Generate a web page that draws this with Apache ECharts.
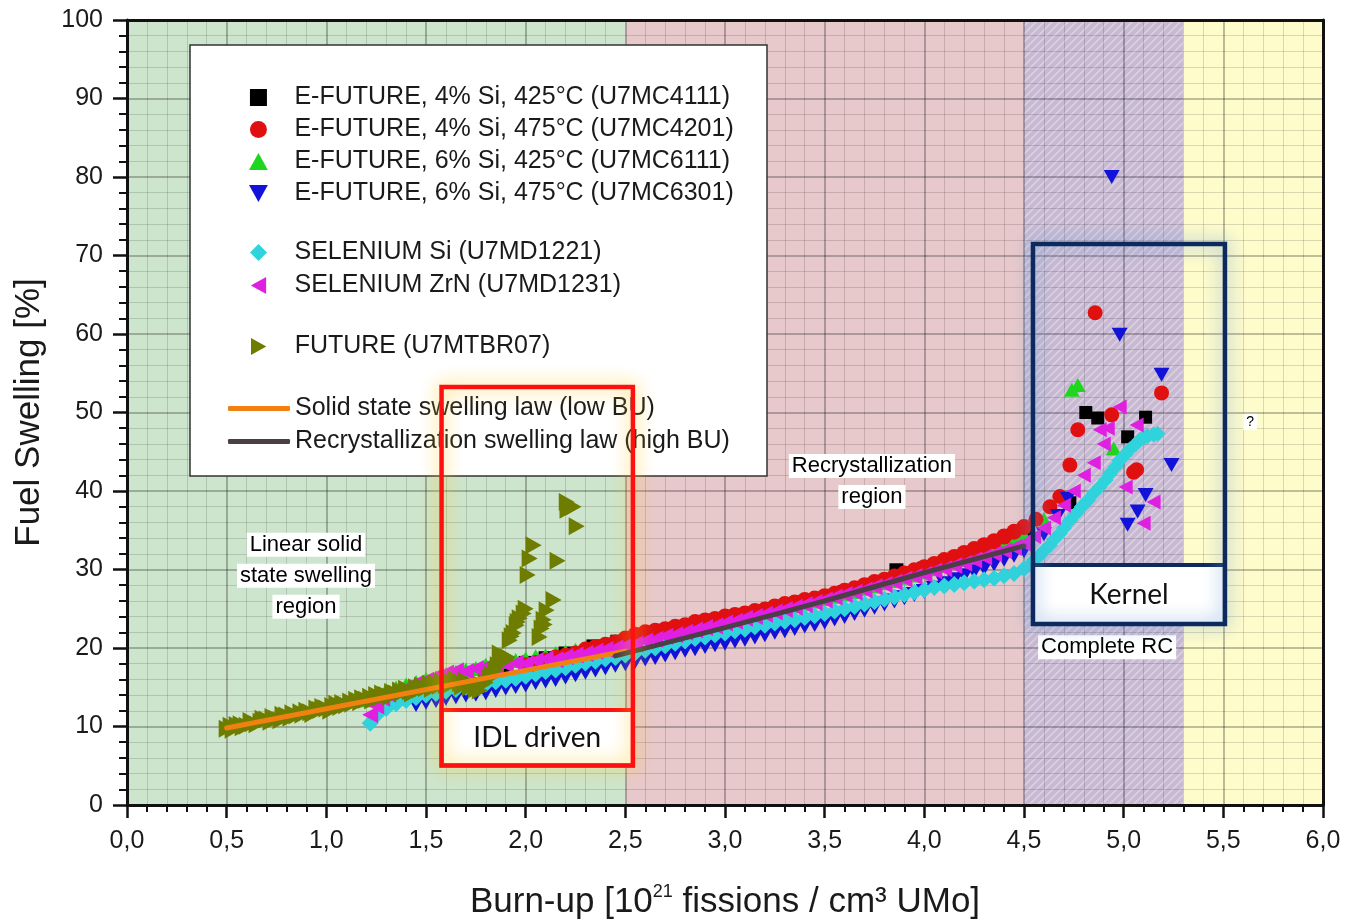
<!DOCTYPE html>
<html><head><meta charset="utf-8">
<script src="https://cdn.jsdelivr.net/npm/echarts@6/dist/echarts.min.js"></script>
<style>html,body{margin:0;padding:0;background:#fff}#c{width:1346px;height:919px}</style>
</head><body><div id="c"></div>
<script>
// ---------- data ----------
const X_MIN = 0, X_MAX = 6, X_STEP = 0.5;
const Y_MIN = 0, Y_MAX = 100, Y_STEP = 10;
const seriesNames = [
  'E-FUTURE, 4% Si, 425°C (U7MC4111)',
  'E-FUTURE, 4% Si, 475°C (U7MC4201)',
  'E-FUTURE, 6% Si, 425°C (U7MC6111)',
  'E-FUTURE, 6% Si, 475°C (U7MC6301)',
  'SELENIUM Si (U7MD1221)',
  'SELENIUM ZrN (U7MD1231)',
  'FUTURE (U7MTBR07)'
];
const lawNames = ['Solid state swelling law (low BU)', 'Recrystallization swelling law (high BU)'];
const regionBands = [[0, 2.5], [2.5, 4.5], [4.5, 5.3], [5.3, 6]];

const efuture4_425 = [[1.90,17.6],[2.00,18.1],[2.10,18.7],[2.20,19.3],[2.34,20.2],[2.46,20.8],[2.60,21.5],[2.80,22.6],[3.00,23.6],[3.20,24.6],[3.40,25.8],[3.60,27.1],[3.86,29.9],[4.00,30.1],[4.20,31.6],[4.40,33.6],[4.52,35.0],[4.73,38.5],[4.81,50.0],[4.87,49.3],[5.02,46.9],[5.11,49.4]];
const efuture4_475 = [[2.00,17.8],[2.05,18.1],[2.10,18.4],[2.15,18.8],[2.20,19.0],[2.25,19.3],[2.30,19.8],[2.35,20.1],[2.40,20.4],[2.45,20.7],[2.50,21.2],[2.55,21.7],[2.60,22.0],[2.65,22.2],[2.70,22.4],[2.75,22.7],[2.80,22.9],[2.85,23.3],[2.90,23.5],[2.95,23.7],[3.00,24.0],[3.05,24.2],[3.10,24.4],[3.15,24.7],[3.20,24.9],[3.25,25.3],[3.30,25.6],[3.35,25.8],[3.40,26.1],[3.45,26.3],[3.50,26.6],[3.55,26.9],[3.60,27.3],[3.65,27.6],[3.70,28.0],[3.75,28.4],[3.80,28.7],[3.85,29.1],[3.90,29.5],[3.95,29.9],[4.00,30.3],[4.05,30.7],[4.10,31.2],[4.15,31.6],[4.20,32.1],[4.25,32.6],[4.30,33.1],[4.35,33.6],[4.40,34.2],[4.45,34.8],[4.50,35.4],[4.56,36.4],[4.63,38.0],[4.68,39.3],[4.73,43.3],[4.77,47.8],[4.857,62.7],[4.94,49.7],[5.05,42.4],[5.065,42.7],[5.19,52.5]];
const efuture6_425 = [[1.20,13.4],[1.25,13.9],[1.30,14.6],[1.35,14.9],[1.40,15.3],[1.45,15.6],[1.50,16.0],[1.55,16.2],[1.60,16.6],[1.65,16.9],[1.70,17.2],[1.75,17.4],[1.80,17.8],[1.85,18.0],[1.90,18.3],[1.95,18.4],[2.00,18.6],[2.05,18.9],[2.10,19.0],[2.15,19.3],[2.20,19.5],[2.25,19.7],[2.30,20.0],[2.35,20.2],[2.40,20.4],[2.45,20.6],[2.50,20.9],[2.55,21.2],[2.60,21.4],[2.65,21.7],[2.70,21.9],[2.75,22.2],[2.80,22.4],[2.85,22.7],[2.90,23.0],[2.95,23.2],[3.00,23.5],[3.05,23.7],[3.10,24.0],[3.15,24.3],[3.20,24.5],[3.25,24.8],[3.30,25.1],[3.35,25.4],[3.40,25.7],[3.45,26.0],[3.50,26.3],[3.55,26.6],[3.60,26.9],[3.65,27.2],[3.70,27.6],[3.75,27.9],[3.80,28.3],[3.85,28.6],[3.90,29.0],[3.95,29.3],[4.00,29.7],[4.05,30.1],[4.10,30.5],[4.15,30.9],[4.20,31.3],[4.25,31.7],[4.30,32.2],[4.35,32.7],[4.40,33.2],[4.45,33.7],[4.50,34.3],[4.60,36.4],[4.74,52.9],[4.77,53.5],[4.95,45.4]];
const efuture6_475 = [[1.45,12.8],[1.50,13.1],[1.55,13.3],[1.60,13.6],[1.65,13.8],[1.70,14.0],[1.75,14.1],[1.80,14.3],[1.85,14.6],[1.90,14.9],[1.95,15.1],[2.00,15.3],[2.05,15.6],[2.10,15.8],[2.15,16.0],[2.20,16.3],[2.25,16.6],[2.30,16.9],[2.35,17.2],[2.40,17.5],[2.45,17.8],[2.50,18.0],[2.55,18.3],[2.60,18.6],[2.65,18.8],[2.70,19.1],[2.75,19.4],[2.80,19.7],[2.85,19.9],[2.90,20.2],[2.95,20.4],[3.00,20.6],[3.05,20.9],[3.10,21.1],[3.15,21.4],[3.20,21.7],[3.25,22.0],[3.30,22.2],[3.35,22.5],[3.40,22.8],[3.45,23.0],[3.50,23.3],[3.55,23.7],[3.60,24.0],[3.65,24.4],[3.70,24.8],[3.75,25.2],[3.80,25.6],[3.85,26.0],[3.90,26.4],[3.95,26.8],[4.00,27.2],[4.05,27.6],[4.10,28.2],[4.15,28.7],[4.20,29.2],[4.25,29.7],[4.30,30.2],[4.35,30.7],[4.40,31.3],[4.45,31.8],[4.50,32.4],[4.60,34.5],[4.67,36.8],[4.72,39.0],[4.94,80.0],[4.98,59.9],[5.19,54.8],[5.24,43.3],[5.11,39.5],[5.07,37.4],[5.02,35.7]];
const seleniumSi = [[1.22,10.4],[1.25,11.4],[1.30,12.3],[1.35,12.9],[1.40,13.3],[1.45,13.7],[1.50,14.0],[1.55,14.2],[1.60,14.5],[1.65,14.7],[1.70,15.0],[1.75,15.2],[1.80,15.4],[1.85,15.7],[1.90,15.9],[1.95,16.1],[2.00,16.4],[2.05,16.7],[2.10,17.0],[2.15,17.2],[2.20,17.5],[2.25,17.8],[2.30,18.1],[2.35,18.3],[2.40,18.6],[2.45,18.8],[2.50,19.1],[2.55,19.4],[2.60,19.7],[2.65,20.0],[2.70,20.3],[2.75,20.6],[2.80,20.9],[2.85,21.2],[2.90,21.4],[2.95,21.7],[3.00,21.9],[3.05,22.2],[3.10,22.4],[3.15,22.7],[3.20,22.9],[3.25,23.2],[3.30,23.4],[3.35,23.6],[3.40,23.9],[3.45,24.1],[3.50,24.4],[3.55,24.7],[3.60,25.0],[3.65,25.3],[3.70,25.6],[3.75,25.9],[3.80,26.2],[3.85,26.5],[3.90,26.8],[3.95,27.1],[4.00,27.4],[4.05,27.7],[4.10,27.9],[4.15,28.1],[4.20,28.3],[4.25,28.5],[4.30,28.7],[4.35,28.9],[4.40,29.2],[4.45,29.5],[4.50,30.1],[4.53,30.6],[4.55,31.2],[4.58,31.8],[4.60,32.4],[4.63,33.1],[4.65,33.8],[4.68,34.6],[4.70,35.3],[4.73,36.2],[4.76,37.1],[4.79,38.0],[4.82,38.8],[4.85,39.7],[4.88,40.5],[4.91,41.4],[4.93,42.2],[4.96,43.1],[4.98,43.9],[5.01,44.7],[5.03,45.3],[5.06,46.0],[5.08,46.5],[5.10,46.8],[5.12,47.0],[5.15,47.2],[5.17,47.3]];
const seleniumZrN = [[1.22,11.5],[1.25,12.6],[1.28,13.6],[1.31,14.1],[1.35,14.5],[1.40,14.9],[1.45,15.5],[1.50,15.9],[1.55,16.4],[1.60,16.8],[1.65,17.1],[1.70,17.0],[1.75,17.4],[1.80,17.6],[1.85,17.5],[1.90,17.9],[1.95,18.1],[2.00,18.0],[2.05,18.4],[2.10,18.6],[2.15,18.5],[2.20,18.9],[2.25,19.1],[2.30,19.3],[2.35,19.6],[2.40,19.8],[2.45,20.0],[2.50,20.3],[2.55,20.5],[2.60,20.9],[2.65,21.1],[2.70,21.5],[2.75,21.7],[2.80,22.0],[2.85,22.3],[2.90,22.6],[2.95,22.8],[3.00,23.2],[3.05,23.4],[3.10,23.8],[3.15,24.0],[3.20,24.3],[3.25,24.6],[3.30,24.9],[3.35,25.2],[3.40,25.5],[3.45,25.8],[3.50,26.1],[3.55,26.5],[3.60,26.8],[3.65,27.1],[3.70,27.4],[3.75,27.8],[3.80,28.1],[3.85,28.4],[3.90,28.8],[3.95,29.1],[4.00,29.4],[4.05,29.8],[4.10,30.1],[4.15,30.5],[4.20,30.8],[4.25,31.2],[4.30,31.6],[4.35,32.0],[4.40,32.4],[4.45,32.8],[4.50,33.3],[4.55,34.2],[4.60,35.3],[4.65,36.6],[4.70,38.2],[4.75,40.0],[4.80,42.0],[4.85,43.6],[4.90,46.0],[4.92,48.0],[4.88,47.8],[4.98,50.7],[5.065,48.4],[5.01,40.5],[5.15,38.6],[5.10,35.9]];
const futureTBR07 = [[0.50,9.7],[0.52,10.1],[0.53,9.6],[0.55,10.2],[0.57,10.3],[0.58,9.9],[0.60,10.1],[0.62,10.7],[0.63,10.4],[0.65,10.3],[0.67,10.6],[0.68,11.0],[0.70,10.9],[0.72,10.6],[0.73,11.2],[0.75,11.0],[0.77,10.8],[0.78,11.5],[0.80,11.4],[0.82,11.1],[0.83,11.7],[0.85,11.4],[0.87,11.8],[0.88,11.5],[0.90,12.0],[0.92,11.8],[0.93,11.6],[0.95,12.3],[0.97,12.1],[0.98,12.5],[1.00,12.3],[1.02,12.0],[1.03,12.6],[1.05,12.9],[1.07,12.5],[1.08,13.0],[1.10,12.7],[1.12,13.2],[1.13,12.9],[1.15,13.4],[1.17,13.1],[1.18,13.6],[1.20,13.4],[1.22,13.8],[1.23,13.3],[1.25,14.0],[1.27,13.7],[1.28,14.2],[1.30,14.0],[1.32,13.8],[1.33,14.4],[1.35,14.2],[1.37,14.6],[1.38,14.3],[1.40,14.8],[1.42,14.5],[1.43,14.2],[1.45,15.0],[1.47,14.7],[1.48,15.2],[1.50,14.9],[1.52,15.4],[1.53,14.8],[1.55,15.5],[1.57,15.2],[1.58,15.7],[1.60,15.3],[1.62,15.8],[1.63,15.4],[1.65,16.0],[1.67,15.5],[1.68,15.1],[1.70,15.8],[1.72,15.0],[1.73,15.4],[1.75,14.7],[1.77,14.6],[1.78,15.3],[1.80,15.6],[1.82,16.2],[1.83,16.6],[1.85,17.2],[1.86,17.8],[1.88,19.0],[1.90,18.4],[1.91,18.8],[1.87,19.3],[1.905,18.9],[1.92,21.0],[1.93,21.5],[1.94,21.9],[1.955,22.9],[1.96,23.3],[1.97,23.8],[1.99,24.4],[2.00,25.0],[2.01,29.3],[2.02,31.4],[2.04,33.1],[2.07,21.4],[2.08,22.5],[2.09,23.6],[2.095,23.0],[2.105,24.8],[2.14,26.1],[2.16,31.1],[2.206,38.6],[2.22,38.2],[2.24,38.0],[2.21,37.6],[2.256,35.5]];
const solidLaw = [[0.5,9.8],[2.5,19.6]];
const recrystLaw = [[2.45,19.0],[3.0,22.6],[3.5,26.0],[4.0,29.6],[4.5,33.0]];

// ---------- styles ----------
const FONT = "'Liberation Sans', Arial, sans-serif";
const CAL = "Lato, 'Open Sans', sans-serif";
const SYM_SQUARE = 'path://M0,0L10,0L10,10L0,10Z';
const SYM_UP = 'path://M5,0L10,9L0,9Z';
const SYM_DOWN = 'path://M0,0L10,0L5,9Z';
const SYM_LEFT = 'path://M9,0L9,10L0,5Z';
const SYM_RIGHT = 'path://M0,0L9,5L0,10Z';
const SYM_DIAMOND = 'path://M5,0L10,5L5,10L0,5Z';

function hatchCanvas() {
  const c = document.createElement('canvas');
  c.width = 8; c.height = 8;
  const g = c.getContext('2d');
  g.fillStyle = '#c6b9d7'; g.fillRect(0, 0, 8, 8);
  g.fillStyle = '#dacbdb';
  for (let y = 0; y < 8; y++) for (let x = 0; x < 8; x++) if (((x + y) % 8) < 3) g.fillRect(x, y, 1, 1);
  return c;
}
const bandFills = ['#cde5cc', '#e8c9cb', { image: hatchCanvas(), repeat: 'repeat' }, '#fffccc'];

function sc(name, data, symbol, color, bandSize, kernelSize) {
  return { type: 'scatter', name, data, symbol,
    symbolSize: v => (v[0] <= 4.52 ? bandSize : kernelSize),
    itemStyle: { color, opacity: 1 }, z: 2, silent: true, animation: false };
}

const chart = echarts.init(document.getElementById('c'), null, { renderer: 'canvas' });

const axisLineStyle = { color: '#111', width: 3 };
const legendText = { fontFamily: FONT, fontSize: 25, color: '#1a1a1a', lineHeight: 24 };
const option = {
  backgroundColor: '#fff',
  animation: false,
  grid: { left: 127, right: 23, top: 20, bottom: 114, containLabel: false, outerBoundsMode: 'none' },
  xAxis: [{
    type: 'value', min: X_MIN, max: X_MAX, interval: X_STEP, z: 1,
    axisLine: { show: true, onZero: false, lineStyle: axisLineStyle },
    axisTick: { show: true, length: 13, lineStyle: { color: '#111', width: 2.5 } },
    minorTick: { show: true, splitNumber: 5, length: 7, lineStyle: { color: '#111', width: 2 } },
    splitLine: { show: true, lineStyle: { color: 'rgba(0,0,0,0.33)', width: 1.6 } },
    minorSplitLine: { show: true, lineStyle: { color: 'rgba(0,0,0,0.14)', width: 1 } },
    axisLabel: { fontFamily: FONT, fontSize: 25, color: '#1a1a1a', margin: 24,
      formatter: v => v.toFixed(1).replace('.', ',') },
    name: 'Burn-up [10{s|21} fissions / cm³ UMo]', nameLocation: 'middle', nameGap: 78,
    nameTextStyle: { fontFamily: FONT, fontSize: 35, color: '#1a1a1a',
      rich: { s: { fontFamily: FONT, fontSize: 18, color: '#1a1a1a', verticalAlign: 'top', lineHeight: 38 } } }
  }, {
    type: 'value', min: X_MIN, max: X_MAX, position: 'top', z: 1,
    axisLine: { show: true, onZero: false, lineStyle: axisLineStyle },
    axisTick: { show: false }, axisLabel: { show: false }, splitLine: { show: false }
  }],
  yAxis: [{
    type: 'value', min: Y_MIN, max: Y_MAX, interval: Y_STEP, z: 1,
    axisLine: { show: true, onZero: false, lineStyle: axisLineStyle },
    axisTick: { show: true, length: 14, lineStyle: { color: '#111', width: 2.5 } },
    minorTick: { show: true, splitNumber: 5, length: 8, lineStyle: { color: '#111', width: 2 } },
    splitLine: { show: true, lineStyle: { color: 'rgba(0,0,0,0.33)', width: 1.6 } },
    minorSplitLine: { show: true, lineStyle: { color: 'rgba(0,0,0,0.14)', width: 1 } },
    axisLabel: { fontFamily: FONT, fontSize: 25, color: '#1a1a1a', margin: 24 },
    name: 'Fuel Swelling [%]', nameLocation: 'middle', nameGap: 80, nameRotate: 90,
    nameTextStyle: { fontFamily: FONT, fontSize: 35, color: '#1a1a1a' }
  }, {
    type: 'value', min: Y_MIN, max: Y_MAX, position: 'right', z: 1,
    axisLine: { show: true, onZero: false, lineStyle: axisLineStyle },
    axisTick: { show: false }, axisLabel: { show: false }, splitLine: { show: false }
  }],
  legend: [
    { data: seriesNames.slice(0, 4), orient: 'vertical', left: 244, top: 80, itemWidth: 62, itemHeight: 17, itemGap: 7,
      selectedMode: false, textStyle: legendText },
    { data: seriesNames.slice(4, 6), orient: 'vertical', left: 245, top: 235, itemWidth: 62, itemHeight: 17, itemGap: 8,
      selectedMode: false, textStyle: legendText },
    { data: seriesNames.slice(6, 7), orient: 'vertical', left: 246, top: 329, itemWidth: 62, itemHeight: 17, itemGap: 8,
      selectedMode: false, textStyle: legendText },
    { data: lawNames.map(n => ({ name: n, icon: 'roundRect' })), orient: 'vertical', left: 223, top: 391, itemWidth: 62, itemHeight: 5, itemGap: 8,
      selectedMode: false, textStyle: legendText }
  ],
  series: [
    { type: 'custom', name: 'bands', data: regionBands, z: 0, silent: true, animation: false,
      renderItem: (params, api) => {
        const p0 = api.coord([api.value(0), Y_MAX]);
        const p1 = api.coord([api.value(1), Y_MIN]);
        return { type: 'rect', shape: { x: p0[0], y: p0[1], width: p1[0] - p0[0], height: p1[1] - p0[1] },
          style: { fill: bandFills[params.dataIndex] } };
      } },
    sc(seriesNames[0], efuture4_425, SYM_SQUARE, '#000000', 14, 13),
    sc(seriesNames[2], efuture6_425, SYM_UP, '#1fd61f', [17, 15], [16, 14]),
    sc(seriesNames[1], efuture4_475, 'circle', '#e01010', 16, 15),
    sc(seriesNames[3], efuture6_475, SYM_DOWN, '#1212d8', [17, 15], [16, 14]),
    sc(seriesNames[4], seleniumSi, SYM_DIAMOND, '#2fd3dc', 17, 16),
    sc(seriesNames[5], seleniumZrN, SYM_LEFT, '#e020e0', [16, 17], [14, 15]),
    sc(seriesNames[6], futureTBR07, SYM_RIGHT, '#6e7d00', [16, 18], [16, 18]),
    { type: 'line', name: lawNames[0], data: solidLaw, symbol: 'none', z: 3, silent: true, animation: false,
      itemStyle: { color: '#f08010' }, lineStyle: { color: '#f08010', width: 5, cap: 'round' } },
    { type: 'line', name: lawNames[1], data: recrystLaw, symbol: 'none', z: 3, silent: true, animation: false, smooth: 0.2,
      itemStyle: { color: '#4a3f44' }, lineStyle: { color: '#4a3f44', width: 5, cap: 'round' } }
  ]
};
chart.setOption(option);

// ---------- annotations (placed in data coordinates) ----------
const P = (x, y) => chart.convertToPixel({ seriesIndex: 0 }, [x, y]);
function boxGraphic(x0, x1, yTop, yBottom, yLabelTop, label, stroke, glow) {
  const a = P(x0, yTop), b = P(x1, yBottom), c = P(x0, yLabelTop);
  return [
    { type: 'rect', z: 9, shape: { x: c[0], y: c[1], width: b[0] - a[0], height: b[1] - c[1] },
      style: { fill: '#fff', stroke: stroke, lineWidth: 4 } },
    { type: 'rect', z: 10, shape: { x: a[0], y: a[1], width: b[0] - a[0], height: b[1] - a[1] },
      style: { fill: 'none', stroke: stroke, lineWidth: 4.5, shadowBlur: 18, shadowColor: glow } },
    { type: 'text', z: 11, style: { text: label, x: (a[0] + b[0]) / 2, y: (c[1] + b[1]) / 2, align: 'center', verticalAlign: 'middle',
      font: '28px ' + CAL, fill: '#111' } }
  ];
}
function regionText(x, y, lines, size) {
  const p = P(x, y);
  return { type: 'text', z: 9, style: {
    text: lines.map(l => '{w|' + l + '}').join('\n'), x: p[0], y: p[1], align: 'center', verticalAlign: 'middle',
    rich: { w: { backgroundColor: '#fff', padding: [1, 3, 1, 3], fontSize: size, fontFamily: FONT, lineHeight: 31, color: '#111' } } } };
}
const graphics = [
  { type: 'rect', z: 3, shape: { x: 190, y: 45, width: 577, height: 431 }, style: { fill: '#fff', stroke: '#333', lineWidth: 1.5 } },
  regionText(0.898, 29.2, ['Linear solid', 'state swelling', 'region'], 22),
  regionText(3.737, 41.2, ['Recrystallization', 'region'], 22),
  regionText(4.917, 20.1, ['Complete RC'], 22),
  regionText(5.634, 48.8, ['?'], 14),
  ...boxGraphic(1.578, 2.538, 53.25, 5.03, 12.1, 'IDL driven', '#ff1010', 'rgba(255,200,40,0.95)'),
  ...boxGraphic(4.545, 5.508, 71.46, 23.06, 30.57, 'Kernel', '#0d2a5e', 'rgba(110,160,215,0.95)')
];
chart.setOption({ graphic: graphics });
</script>
</body></html>
